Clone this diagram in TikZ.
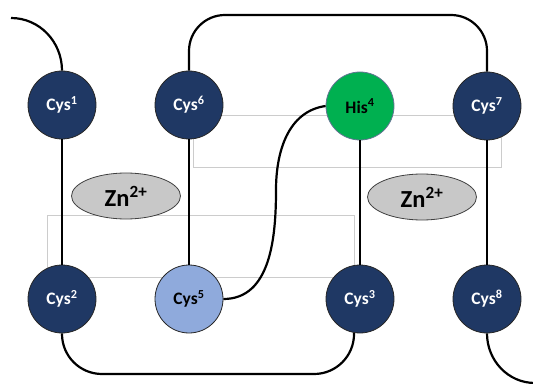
\documentclass[tikz,border=0pt]{standalone}
\usepackage{fontspec}
\setmainfont{Carlito}
\usetikzlibrary{shapes.geometric}
\definecolor{navy}{HTML}{1F3864}
\definecolor{hisgreen}{HTML}{00B050}
\definecolor{lightblue}{HTML}{8FAADC}
\definecolor{zngray}{HTML}{C8C8C8}
\definecolor{boxgray}{HTML}{CCCCCC}
\begin{document}
\begin{tikzpicture}[x=1pt,y=-1pt,
  res/.style={circle,draw=black!85,line width=0.8pt,minimum size=68pt,inner sep=0pt,
    font=\fontsize{17.5}{19}\selectfont\bfseries},
  cys/.style={res,fill=navy,text=white},
  zn/.style={ellipse,draw=black!75,line width=0.8pt,fill=zngray,minimum width=109pt,
    minimum height=46pt,inner sep=0pt,font=\fontsize{24.5}{26}\selectfont\bfseries},
  chain/.style={line width=2.2pt,black},
  frame/.style={draw=boxgray,line width=0.8pt}]
\useasboundingbox (0,0) rectangle (533,385);
\clip (0,0) rectangle (533,385);
% thin gray frames
\draw[frame] (193,115) rectangle (501,167);
\draw[frame] (47,215) rectangle (354,277);
% residues
\node[cys] (c1) at (62,105) {Cys\textsuperscript{1}};
\node[cys] (c6) at (189,105) {Cys\textsuperscript{6}};
\node[res,fill=hisgreen,draw=navy!70,text=black] (h4) at (360,106) {His\textsuperscript{4}};
\node[cys] (c7) at (487,106) {Cys\textsuperscript{7}};
\node[cys] (c2) at (62,299) {Cys\textsuperscript{2}};
\node[res,fill=lightblue,text=black] (c5) at (189,299) {Cys\textsuperscript{5}};
\node[cys] (c3) at (360,299) {Cys\textsuperscript{3}};
\node[cys] (c8) at (487,299) {Cys\textsuperscript{8}};
% zinc ions
\node[zn] (zn1) at (126,196) {Zn\textsuperscript{2+}};
\node[zn] (zn2) at (422,197) {Zn\textsuperscript{2+}};
% coordinates for free ends / routing
\coordinate (tl) at (11,18);
\coordinate (topy) at (0,15);
\coordinate (boty) at (0,374);
\coordinate (br) at (535,383);
% chain
\draw[chain] (tl) to[out=0,in=90] (c1.north);
\draw[chain] (c1) -- (c2);
\draw[chain] (c6) -- (c5);
\draw[chain] (h4) -- (c3);
\draw[chain] (c7) -- (c8);
\draw[chain,rounded corners=36pt] (c6.north) -- (c6 |- topy) -- (c7 |- topy) -- (c7.north);
\draw[chain,rounded corners=40pt] (c2.south) -- (c2 |- boty) -- (c3.-100 |- boty) -- (c3.-100);
\draw[chain] (h4.west) to[out=188,in=90] (276,190) to[out=-90,in=0] (c5.east);
\draw[chain] (c8.south) to[out=-90,in=180] (br);
\end{tikzpicture}
\end{document}
